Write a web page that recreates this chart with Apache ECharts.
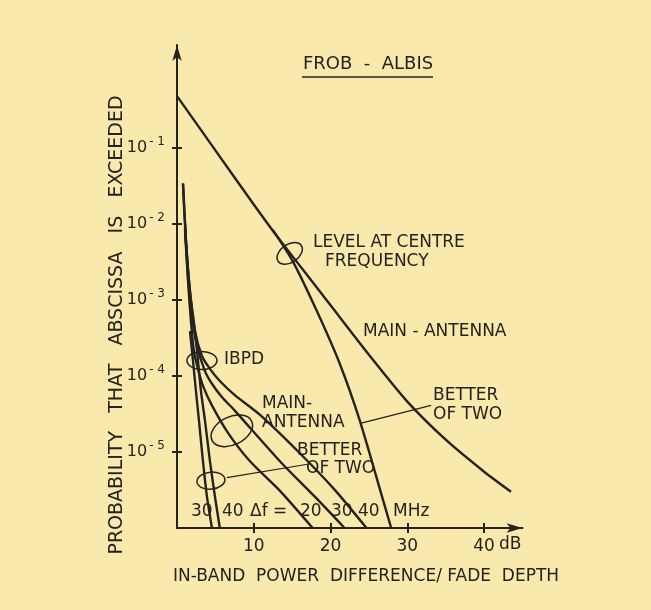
<!DOCTYPE html>
<html>
<head>
<meta charset="utf-8">
<script src="https://cdn.jsdelivr.net/npm/echarts@6/dist/echarts.min.js"></script>
<style>
  html, body { margin: 0; padding: 0; background: #f9e9ad; }
  #chart { width: 651px; height: 610px; }
</style>
</head>
<body>
<div id="chart"></div>
<script>
// ---- data: [fade depth / IBPD in dB, probability] ----
const xTicks = [10, 20, 30, 40];
const yTicks = [1e-1, 1e-2, 1e-3, 1e-4, 1e-5];

// level at centre frequency
const levelMain = [[0, 0.48], [5, 0.093], [10, 0.018], [12.7, 0.0076], [15, 0.0038], [20, 8.5e-4],
  [25, 1.9e-4], [30, 4.6e-5], [35, 1.45e-5], [40, 5.5e-6], [43.5, 3.0e-6]];
const levelBetter = [[12.5, 0.0083], [15.1, 0.0032], [18.2, 7.2e-4], [21.2, 1.45e-4],
  [23.8, 2.6e-5], [26.8, 2.4e-6], [27.9, 1e-6]];

// in-band power difference, main antenna, df = 20 / 30 / 40 MHz
const ibpdMain20 = [[1.04, 8.5e-3], [1.43, 1.8e-3], [1.82, 5.2e-4], [2.21, 2.1e-4], [2.73, 1.24e-4],
  [3.38, 7.4e-5], [4.55, 4.1e-5], [6.62, 1.8e-5], [9.48, 7.6e-6], [13.38, 3.1e-6], [17.66, 1e-6]];
const ibpdMain30 = [[1.04, 9.3e-3], [1.43, 2.1e-3], [1.95, 6.2e-4], [2.6, 2.5e-4], [3.64, 1.16e-4],
  [4.55, 7.9e-5], [5.84, 5.3e-5], [7.53, 3.5e-5], [9.48, 2.1e-5], [13.77, 6.9e-6], [17.92, 2.6e-6],
  [21.82, 1e-6]];
const ibpdMain40 = [[0.78, 0.034], [1.17, 6e-3], [1.69, 1.3e-3], [2.34, 3.9e-4], [3.25, 1.83e-4],
  [4.29, 1.24e-4], [5.58, 8.6e-5], [7.53, 5.6e-5], [10.78, 3.1e-5], [15.97, 9.7e-6], [20.52, 3.2e-6],
  [24.68, 1e-6]];

// in-band power difference, better of two, df = 30 / 40 MHz
const ibpdBetter30 = [[1.69, 3.9e-4], [2.08, 1.6e-4], [2.47, 6.3e-5], [2.86, 2.6e-5], [3.38, 7.6e-6],
  [3.9, 2.6e-6], [4.55, 1e-6]];
const ibpdBetter40 = [[0.78, 0.034], [1.17, 6e-3], [1.69, 1.3e-3], [2.34, 3.9e-4], [2.73, 1.6e-4],
  [3.12, 6.3e-5], [3.64, 2.6e-5], [4.29, 7.6e-6], [4.94, 2.6e-6], [5.58, 1e-6]];

const INK = '#25231f';
const FONT = '"DejaVu Sans", sans-serif';

const chart = echarts.init(document.getElementById('chart'));

function curve(name, data) {
  return {
    name: name,
    type: 'line',
    data: data,
    symbol: 'none',
    smooth: 0.25,
    silent: true,
    lineStyle: { color: INK, width: 2.4 },
    z: 3
  };
}

// the reference ticks cross the axis, so a second axis carries the inner half
const tickStyle = { color: INK, width: 2 };

const option = {
  backgroundColor: '#f9e9ad',
  animation: false,
  grid: { left: 177, right: 128.5, top: 45, bottom: 82 },
  xAxis: [
    {
      type: 'value', min: 0, max: 45, interval: 10,
      axisLine: { lineStyle: { color: INK, width: 2 }, symbol: ['none', 'arrow'], symbolSize: [7, 16] },
      axisTick: { customValues: xTicks, length: 5, lineStyle: tickStyle },
      axisLabel: { customValues: xTicks, color: INK, fontSize: 17, fontFamily: FONT, margin: 10 },
      splitLine: { show: false }
    },
    {
      type: 'value', min: 0, max: 45, position: 'bottom',
      axisLine: { show: false },
      axisTick: { customValues: xTicks, inside: true, length: 5, lineStyle: tickStyle },
      axisLabel: { show: false },
      splitLine: { show: false }
    }
  ],
  yAxis: [
    {
      type: 'log', logBase: 10, min: 1e-6, max: 2.26,
      axisLine: { lineStyle: { color: INK, width: 2 }, symbol: ['none', 'arrow'], symbolSize: [7, 16] },
      axisTick: { customValues: yTicks, length: 5, lineStyle: tickStyle },
      axisLabel: {
        customValues: yTicks, margin: 12, color: INK,
        formatter: function (v) {
          return '{b|10}{s|- ' + Math.round(-Math.log10(v)) + '}';
        },
        rich: {
          b: { fontSize: 16, fontFamily: FONT, color: INK },
          s: { fontSize: 12, fontFamily: FONT, color: INK, padding: [0, 0, 12, 2] }
        }
      },
      splitLine: { show: false },
      minorTick: { show: false }
    },
    {
      type: 'log', logBase: 10, min: 1e-6, max: 2.26, position: 'left',
      axisLine: { show: false },
      axisTick: { customValues: yTicks, inside: true, length: 5, lineStyle: tickStyle },
      axisLabel: { show: false },
      splitLine: { show: false }
    }
  ],
  series: [
    curve('Level main antenna', levelMain),
    curve('Level better of two', levelBetter),
    curve('IBPD main 20 MHz', ibpdMain20),
    curve('IBPD main 30 MHz', ibpdMain30),
    curve('IBPD main 40 MHz', ibpdMain40),
    curve('IBPD better 30 MHz', ibpdBetter30),
    curve('IBPD better 40 MHz', ibpdBetter40)
  ]
};

chart.setOption(option);

// ---- annotations: grouping ellipses and leader lines, placed in data coordinates ----
function px(p) { return chart.convertToPixel({ gridIndex: 0 }, p); }

const ellipses = [
  { at: [3.25, 1.6e-4], rx: 15, ry: 9, rot: 0 },        // IBPD
  { at: [7.14, 1.9e-5], rx: 22, ry: 14, rot: 0.45 },    // main antenna group
  { at: [4.42, 4.2e-6], rx: 14, ry: 8.5, rot: 0.1 },    // better of two group
  { at: [14.68, 4.1e-3], rx: 14, ry: 9, rot: 0.6 }      // level at centre frequency
];
const leaders = [
  [[24.0, 2.4e-5], [33.1, 4.1e-5]],
  [[6.49, 4.6e-6], [17.0, 6.9e-6]]
];

const labels = [
  ['FROB  -  ALBIS', 303, 64, 18],
  ['LEVEL AT CENTRE', 313, 243], ['FREQUENCY', 325, 262],
  ['MAIN - ANTENNA', 363, 332],
  ['BETTER', 433, 396], ['OF TWO', 433, 415],
  ['IBPD', 224, 360],
  ['MAIN-', 262, 404], ['ANTENNA', 262, 423],
  ['BETTER', 297, 451], ['OF TWO', 306, 469],
  ['30', 191, 512], ['40', 222, 512], ['\u0394f =', 250, 512],
  ['20', 300, 512], ['30', 331, 512], ['40', 358, 512], ['MHz', 393, 512],
  ['dB', 499, 545]
];

const graphic = [];
ellipses.forEach(function (e) {
  const c = px(e.at);
  graphic.push({
    type: 'ellipse', x: c[0], y: c[1], rotation: e.rot,
    shape: { cx: 0, cy: 0, rx: e.rx, ry: e.ry },
    style: { fill: null, stroke: INK, lineWidth: 1.5 }, z: 10
  });
});
leaders.forEach(function (l) {
  const a = px(l[0]), b = px(l[1]);
  graphic.push({
    type: 'line', shape: { x1: a[0], y1: a[1], x2: b[0], y2: b[1] },
    style: { stroke: INK, lineWidth: 1.2 }, z: 10
  });
});
labels.forEach(function (t) {
  graphic.push({
    type: 'text', x: t[1], y: t[2],
    style: { text: t[0], fill: INK, font: (t[3] || 17) + 'px ' + FONT, align: 'left', verticalAlign: 'middle' }, z: 10
  });
});
// title underline
graphic.push({ type: 'line', shape: { x1: 302, y1: 77, x2: 433, y2: 77 }, style: { stroke: INK, lineWidth: 1.6 }, z: 10 });
// axis names
graphic.push({
  type: 'text', x: 366, y: 577,
  style: { text: 'IN-BAND  POWER  DIFFERENCE/ FADE  DEPTH', fill: INK, font: '17px ' + FONT, align: 'center', verticalAlign: 'middle' }, z: 10
});
graphic.push({
  type: 'text', x: 117, y: 325, rotation: Math.PI / 2,
  style: { text: 'PROBABILITY   THAT   ABSCISSA   IS   EXCEEDED', fill: INK, font: '19px ' + FONT, align: 'center', verticalAlign: 'middle' }, z: 10
});

chart.setOption({ graphic: graphic });
</script>
</body>
</html>
